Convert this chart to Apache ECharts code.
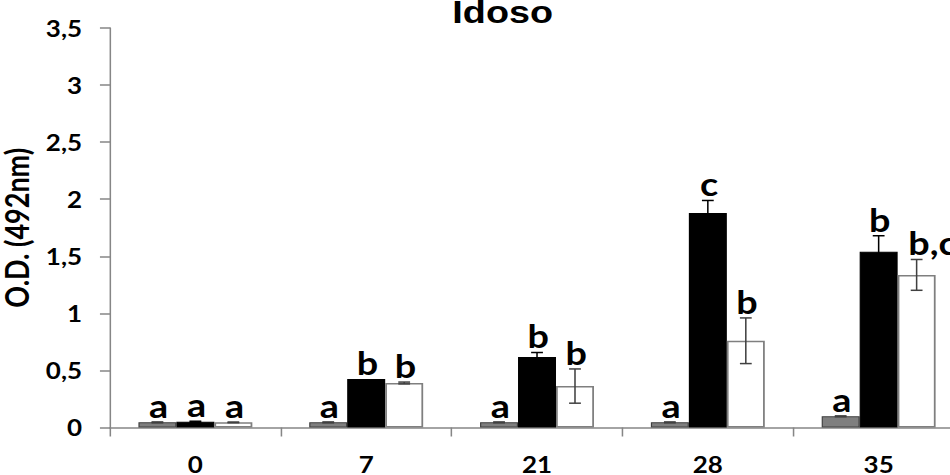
<!DOCTYPE html>
<html>
<head>
<meta charset="utf-8">
<script src="https://cdn.jsdelivr.net/npm/echarts@6/dist/echarts.min.js"></script>
<style>
  html, body { margin: 0; padding: 0; background: #fff; overflow: hidden; width: 950px; height: 475px; }
  /* the source figure is stretched sideways, so draw narrower and stretch */
  #main { width: 817px; height: 475px; transform: scaleX(1.18); transform-origin: 0 0; }
</style>
</head>
<body>
<div id="main"></div>
<script>
var days = ['0', '7', '21', '28', '35'];
var grayVals = [0.045, 0.045, 0.045, 0.045, 0.098];
var blackVals = [0.05, 0.424, 0.617, 1.879, 1.54];
var whiteVals = [0.045, 0.39, 0.363, 0.76, 1.337];
var grayErr = [0.004, 0.004, 0.004, 0.004, 0.004];
var blackErr = [0.005, 0, 0.04, 0.11, 0.14];
var whiteErr = [0.003, 0.008, 0.15, 0.2, 0.135];
var grayLetters = ['a', 'a', 'a', 'a', 'a'];
var blackLetters = ['a', 'b', 'b', 'c', 'b'];
var whiteLetters = ['a', 'b', 'b', 'b', 'b,c'];

var catGap = 0.333;
var allVals = [grayVals, blackVals, whiteVals];
var allErr = [grayErr, blackErr, whiteErr];
var allLetters = [grayLetters, blackLetters, whiteLetters];

// one row per bar: [category, value, error, series index]
var errRows = [];
var errLetters = [];
for (var s = 0; s < 3; s++) {
  for (var i = 0; i < days.length; i++) {
    errRows.push([i, allVals[s][i], allErr[s][i], s]);
    errLetters.push(allLetters[s][i]);
  }
}

var chart = echarts.init(document.getElementById('main'), null, { renderer: 'svg' });

var lblFont = {
  fontFamily: 'Lato',
  fontWeight: 'bold',
  fontSize: 22,
  color: '#000'
};

var option = {
  animation: false,
  title: {
    text: 'Idoso',
    left: 426,
    top: 0,
    padding: 0,
    textAlign: 'center',
    textStyle: {
      fontFamily: 'Liberation Sans',
      fontWeight: 'bold',
      fontSize: 32,
      lineHeight: 24,
      color: '#000'
    }
  },
  grid: { left: 93.2, right: 0, top: 28, bottom: 47.5, containLabel: false, outerBoundsMode: 'none' },
  xAxis: {
    type: 'category',
    data: days,
    axisLine: { lineStyle: { color: '#868686', width: 1.5 } },
    axisTick: { show: true, length: 9, lineStyle: { color: '#868686', width: 1.3 } },
    axisLabel: Object.assign({ margin: 30, lineHeight: 14 }, lblFont)
  },
  yAxis: {
    type: 'value',
    min: 0,
    max: 3.5,
    interval: 0.5,
    name: 'O.D. (492nm)',
    nameLocation: 'middle',
    nameRotate: 90,
    nameGap: 57,
    nameTextStyle: {
      fontFamily: 'Lato',
      fontWeight: 'bold',
      fontSize: 27,
      lineHeight: 22,
      color: '#000'
    },
    splitLine: { show: false },
    axisLine: { show: true, lineStyle: { color: '#868686', width: 1.3 } },
    axisTick: { show: true, length: 8.5, lineStyle: { color: '#868686', width: 1.5 } },
    axisLabel: Object.assign({
      margin: 23.7,
      lineHeight: 20,
      formatter: function (v) { return String(v).replace('.', ','); }
    }, lblFont)
  },
  series: [
    {
      type: 'bar',
      data: grayVals,
      barGap: '0%',
      barCategoryGap: (catGap * 100) + '%',
      itemStyle: { color: '#7f7f7f', borderColor: '#404040', borderWidth: 1 }
    },
    {
      type: 'bar',
      data: blackVals,
      itemStyle: { color: '#000', borderColor: '#000', borderWidth: 1 }
    },
    {
      type: 'bar',
      data: whiteVals,
      itemStyle: { color: '#fff', borderColor: '#7f7f7f', borderWidth: 1.5 }
    },
    {
      type: 'custom',
      data: errRows,
      encode: { x: 0, y: 1 },
      z: 10,
      renderItem: function (params, api) {
        var cat = api.value(0);
        var v = api.value(1);
        var e = api.value(2);
        var s = api.value(3);
        var band = api.size([1, 0])[0];
        var bw = band * (1 - catGap) / 3;
        var cx = api.coord([cat, v])[0] + (s - 1) * bw;
        var yTop = api.coord([cat, v + e])[1];
        var yBot = api.coord([cat, v - e])[1];
        var cap = 5;
        var st = { stroke: s === 1 ? '#000' : '#404040', lineWidth: 1.3 };
        var kids = [];
        if (e > 0) {
          kids.push({ type: 'line', shape: { x1: cx, y1: yTop, x2: cx, y2: yBot }, style: st });
          kids.push({ type: 'line', shape: { x1: cx - cap, y1: yTop, x2: cx + cap, y2: yTop }, style: { stroke: st.stroke, lineWidth: 1.5 } });
          kids.push({ type: 'line', shape: { x1: cx - cap, y1: yBot, x2: cx + cap, y2: yBot }, style: { stroke: st.stroke, lineWidth: 1.5 } });
        }
        var txt = errLetters[params.dataIndex];
        var wide = txt.length > 1;
        kids.push({
          type: 'text',
          style: {
            x: wide ? cx - 7 : cx + 1,
            y: yTop - 1,
            text: txt,
            align: wide ? 'left' : 'center',
            verticalAlign: 'bottom',
            fontFamily: 'Lato',
            fontWeight: 'bold',
            fontSize: 32,
            fill: '#000'
          }
        });
        return { type: 'group', children: kids };
      }
    }
  ]
};

chart.setOption(option);
</script>
</body>
</html>
